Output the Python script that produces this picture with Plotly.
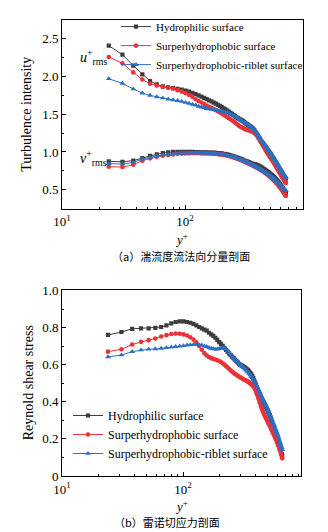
import plotly.graph_objects as go

# ---------------- data ----------------
Y_PLUS = [24, 31, 38, 45, 52, 59, 66, 73, 80, 87,
          94, 101, 108, 115, 122, 129, 136, 143, 150, 157,
          164, 171, 178, 185, 192, 199, 206, 213, 220, 227,
          234, 241, 248, 255, 262, 269, 276, 283, 290, 297,
          304, 311, 318, 325, 332, 339, 346, 353, 360, 367,
          374, 381, 388, 395, 402, 409, 416, 423, 430, 437,
          444, 451, 458, 465, 472, 479, 486, 493, 500, 507,
          514, 521, 528, 535, 542, 549, 556, 563, 570, 577,
          584, 591, 598, 605, 612, 619, 626, 633, 640, 647,
          654, 661]

SERIES_NAMES = ["Hydrophilic surface",
                "Surperhydrophobic surface",
                "Surperhydrophobic-riblet surface"]

U_HYDROPHILIC = [2.41, 2.29, 2.145, 2.03, 1.94, 1.895, 1.87, 1.858, 1.848, 1.838,
                 1.828, 1.815, 1.80, 1.785, 1.768, 1.75, 1.735, 1.718, 1.70, 1.685,
                 1.67, 1.655, 1.64, 1.625, 1.61, 1.595, 1.58, 1.565, 1.55, 1.535,
                 1.52, 1.505, 1.49, 1.475, 1.46, 1.45, 1.44, 1.43, 1.42, 1.41,
                 1.395, 1.38, 1.37, 1.36, 1.35, 1.34, 1.33, 1.315, 1.30, 1.285,
                 1.265, 1.245, 1.225, 1.205, 1.185, 1.165, 1.145, 1.13, 1.115, 1.10,
                 1.085, 1.07, 1.055, 1.04, 1.025, 1.01, 0.995, 0.98, 0.965, 0.95,
                 0.935, 0.92, 0.905, 0.89, 0.875, 0.86, 0.845, 0.83, 0.815, 0.80,
                 0.785, 0.77, 0.755, 0.74, 0.73, 0.715, 0.70, 0.69, 0.675, 0.665,
                 0.655, 0.645]
U_SUPERHYDROPHOBIC = [2.26, 2.175, 2.055, 1.96, 1.905, 1.88, 1.862, 1.85, 1.838, 1.82,
                      1.80, 1.78, 1.755, 1.73, 1.70, 1.675, 1.655, 1.635, 1.615, 1.60,
                      1.585, 1.57, 1.555, 1.54, 1.525, 1.51, 1.495, 1.48, 1.465, 1.45,
                      1.435, 1.42, 1.405, 1.39, 1.375, 1.36, 1.345, 1.335, 1.325, 1.315,
                      1.31, 1.30, 1.295, 1.29, 1.285, 1.28, 1.275, 1.27, 1.26, 1.25,
                      1.24, 1.225, 1.205, 1.185, 1.165, 1.145, 1.125, 1.105, 1.085, 1.065,
                      1.05, 1.03, 1.01, 0.99, 0.975, 0.96, 0.945, 0.93, 0.915, 0.90,
                      0.885, 0.87, 0.855, 0.84, 0.825, 0.81, 0.795, 0.78, 0.765, 0.75,
                      0.735, 0.72, 0.705, 0.69, 0.675, 0.665, 0.65, 0.64, 0.625, 0.615,
                      0.60, 0.59]
U_RIBLET = [1.97, 1.91, 1.835, 1.78, 1.75, 1.73, 1.715, 1.70, 1.69, 1.68,
            1.67, 1.655, 1.645, 1.63, 1.62, 1.605, 1.595, 1.585, 1.575, 1.57,
            1.565, 1.56, 1.555, 1.55, 1.545, 1.54, 1.535, 1.53, 1.525, 1.515,
            1.505, 1.495, 1.485, 1.475, 1.46, 1.45, 1.435, 1.425, 1.41, 1.40,
            1.39, 1.38, 1.37, 1.36, 1.35, 1.34, 1.33, 1.32, 1.305, 1.29,
            1.275, 1.26, 1.24, 1.22, 1.20, 1.18, 1.16, 1.14, 1.125, 1.11,
            1.095, 1.08, 1.065, 1.05, 1.035, 1.02, 1.005, 0.99, 0.975, 0.96,
            0.945, 0.93, 0.915, 0.90, 0.885, 0.87, 0.855, 0.84, 0.825, 0.81,
            0.795, 0.78, 0.77, 0.755, 0.745, 0.73, 0.72, 0.705, 0.695, 0.68,
            0.67, 0.66]

V_HYDROPHILIC = [0.875, 0.87, 0.885, 0.92, 0.95, 0.97, 0.985, 0.995, 1.0, 1.0,
                 1.0, 1.0, 1.0, 1.0, 0.998, 0.997, 0.996, 0.995, 0.994, 0.993,
                 0.992, 0.99, 0.988, 0.986, 0.983, 0.98, 0.976, 0.972, 0.967, 0.962,
                 0.956, 0.95, 0.943, 0.936, 0.929, 0.922, 0.915, 0.908, 0.901, 0.894,
                 0.887, 0.88, 0.874, 0.868, 0.862, 0.856, 0.85, 0.845, 0.84, 0.837,
                 0.835, 0.83, 0.824, 0.818, 0.811, 0.804, 0.797, 0.789, 0.781, 0.773,
                 0.765, 0.757, 0.749, 0.741, 0.733, 0.725, 0.717, 0.709, 0.70, 0.692,
                 0.684, 0.675, 0.666, 0.657, 0.648, 0.638, 0.628, 0.618, 0.607, 0.596,
                 0.585, 0.574, 0.562, 0.55, 0.538, 0.526, 0.514, 0.501, 0.488, 0.475,
                 0.462, 0.45]
V_SUPERHYDROPHOBIC = [0.805, 0.80, 0.83, 0.885, 0.915, 0.935, 0.95, 0.96, 0.968, 0.975,
                      0.978, 0.98, 0.981, 0.982, 0.982, 0.982, 0.981, 0.98, 0.979, 0.978,
                      0.977, 0.975, 0.973, 0.971, 0.968, 0.965, 0.961, 0.957, 0.952, 0.947,
                      0.941, 0.935, 0.928, 0.921, 0.914, 0.907, 0.90, 0.893, 0.886, 0.879,
                      0.872, 0.865, 0.858, 0.851, 0.844, 0.837, 0.83, 0.823, 0.816, 0.809,
                      0.802, 0.795, 0.788, 0.781, 0.774, 0.767, 0.76, 0.752, 0.744, 0.736,
                      0.728, 0.72, 0.712, 0.704, 0.696, 0.688, 0.679, 0.67, 0.661, 0.652,
                      0.643, 0.634, 0.625, 0.615, 0.605, 0.595, 0.585, 0.575, 0.565, 0.554,
                      0.543, 0.532, 0.521, 0.51, 0.499, 0.488, 0.476, 0.464, 0.452, 0.44,
                      0.428, 0.418]
V_RIBLET = [0.845, 0.84, 0.86, 0.905, 0.93, 0.95, 0.96, 0.968, 0.975, 0.98,
            0.983, 0.985, 0.986, 0.987, 0.987, 0.987, 0.986, 0.985, 0.984, 0.983,
            0.982, 0.98, 0.978, 0.976, 0.973, 0.97, 0.966, 0.962, 0.957, 0.952,
            0.946, 0.94, 0.933, 0.926, 0.919, 0.912, 0.905, 0.898, 0.891, 0.884,
            0.877, 0.87, 0.863, 0.856, 0.849, 0.842, 0.835, 0.828, 0.821, 0.814,
            0.807, 0.80, 0.793, 0.786, 0.779, 0.772, 0.765, 0.758, 0.751, 0.744,
            0.737, 0.73, 0.723, 0.716, 0.709, 0.702, 0.695, 0.687, 0.679, 0.671,
            0.663, 0.655, 0.647, 0.639, 0.63, 0.621, 0.612, 0.603, 0.594, 0.585,
            0.578, 0.57, 0.562, 0.554, 0.545, 0.536, 0.527, 0.518, 0.509, 0.50,
            0.493, 0.487]

RSS_HYDROPHILIC = [0.76, 0.776, 0.793, 0.796, 0.796, 0.798, 0.803, 0.812, 0.823, 0.83,
                   0.833, 0.833, 0.83, 0.826, 0.82, 0.812, 0.803, 0.796, 0.789, 0.783,
                   0.772, 0.763, 0.755, 0.745, 0.734, 0.722, 0.712, 0.702, 0.691, 0.68,
                   0.669, 0.66, 0.651, 0.643, 0.635, 0.627, 0.619, 0.612, 0.605, 0.60,
                   0.596, 0.592, 0.588, 0.584, 0.579, 0.575, 0.569, 0.562, 0.555, 0.548,
                   0.538, 0.527, 0.515, 0.503, 0.491, 0.478, 0.465, 0.452, 0.44, 0.43,
                   0.42, 0.412, 0.404, 0.396, 0.388, 0.38, 0.372, 0.363, 0.355, 0.346,
                   0.337, 0.328, 0.318, 0.307, 0.295, 0.283, 0.272, 0.261, 0.25, 0.239,
                   0.228, 0.218, 0.207, 0.196, 0.185, 0.174, 0.163, 0.152, 0.142, 0.131,
                   0.12, 0.11]
RSS_SUPERHYDROPHOBIC = [0.67, 0.683, 0.709, 0.723, 0.732, 0.741, 0.752, 0.759, 0.765, 0.768,
                        0.767, 0.763, 0.757, 0.748, 0.735, 0.72, 0.70, 0.68, 0.662, 0.65,
                        0.641, 0.635, 0.631, 0.628, 0.624, 0.62, 0.614, 0.608, 0.60, 0.592,
                        0.585, 0.577, 0.569, 0.562, 0.556, 0.55, 0.545, 0.54, 0.536, 0.532,
                        0.528, 0.524, 0.52, 0.517, 0.514, 0.511, 0.507, 0.503, 0.499, 0.494,
                        0.489, 0.483, 0.475, 0.465, 0.453, 0.44, 0.426, 0.412, 0.398, 0.384,
                        0.371, 0.359, 0.348, 0.338, 0.328, 0.319, 0.311, 0.303, 0.295, 0.287,
                        0.279, 0.271, 0.263, 0.255, 0.247, 0.239, 0.231, 0.223, 0.215, 0.207,
                        0.199, 0.191, 0.183, 0.175, 0.166, 0.157, 0.148, 0.139, 0.129, 0.119,
                        0.108, 0.095]
RSS_RIBLET = [0.642, 0.652, 0.67, 0.679, 0.683, 0.685, 0.688, 0.691, 0.694, 0.697,
              0.70, 0.702, 0.705, 0.707, 0.708, 0.708, 0.707, 0.705, 0.70, 0.697,
              0.692, 0.688, 0.685, 0.683, 0.684, 0.686, 0.689, 0.691, 0.69, 0.684,
              0.674, 0.664, 0.653, 0.642, 0.633, 0.626, 0.62, 0.614, 0.608, 0.601,
              0.595, 0.589, 0.583, 0.577, 0.571, 0.565, 0.559, 0.552, 0.545, 0.537,
              0.529, 0.52, 0.51, 0.50, 0.49, 0.48, 0.47, 0.46, 0.45, 0.44,
              0.43, 0.42, 0.411, 0.402, 0.393, 0.384, 0.375, 0.366, 0.357, 0.348,
              0.339, 0.33, 0.321, 0.312, 0.303, 0.294, 0.285, 0.276, 0.267, 0.258,
              0.249, 0.24, 0.231, 0.222, 0.212, 0.202, 0.192, 0.182, 0.172, 0.162,
              0.152, 0.142]

X_TICKS = [10, 100]
X_TICKTEXT = ["10<sup>1</sup>", "10<sup>2</sup>"]
X_MINOR = [20, 30, 40, 50, 60, 70, 80, 90, 200, 300, 400, 500, 600, 700, 800, 900]
Y1_TICKS = [0.5, 1.0, 1.5, 2.0, 2.5]
Y1_TICKTEXT = ["0.5", "1.0", "1.5", "2.0", "2.5"]
Y2_TICKS = [0, 0.2, 0.4, 0.6, 0.8, 1.0]
Y2_TICKTEXT = ["0", "0.2", "0.4", "0.6", "0.8", "1.0"]

# ---------------- style ----------------
COLORS = ["#3d3d3d", "#ec3237", "#2c6fc2"]
SYMBOLS = ["square", "circle", "triangle-up"]
SIZES = [4.2, 4.6, 5.2]
SERIF = "Liberation Serif"
CJK = "Noto Sans CJK SC"

W, H = 328, 532
ML, MR, MT, MB = 62, 25, 14, 56
PW = W - ML - MR
PH = H - MT - MB


def px(x):
    return (x - ML) / PW


def py(y):
    return (H - MB - y) / PH


fig = go.Figure()

u_sets = [U_HYDROPHILIC, U_SUPERHYDROPHOBIC, U_RIBLET]
v_sets = [V_HYDROPHILIC, V_SUPERHYDROPHOBIC, V_RIBLET]
r_sets = [RSS_HYDROPHILIC, RSS_SUPERHYDROPHOBIC, RSS_RIBLET]

for i in range(3):
    for vals, show in ((v_sets[i], False), (u_sets[i], True)):
        fig.add_trace(go.Scatter(
            x=Y_PLUS, y=vals, mode="lines+markers", name=SERIES_NAMES[i],
            xaxis="x", yaxis="y", legend="legend", showlegend=show,
            line=dict(color=COLORS[i], width=1),
            marker=dict(symbol=SYMBOLS[i], size=SIZES[i], color=COLORS[i],
                        line=dict(width=0))))

for i in range(3):
    fig.add_trace(go.Scatter(
        x=Y_PLUS, y=r_sets[i], mode="lines+markers", name=SERIES_NAMES[i],
        xaxis="x2", yaxis="y2", legend="legend2", showlegend=True,
        line=dict(color=COLORS[i], width=1),
        marker=dict(symbol=SYMBOLS[i], size=SIZES[i], color=COLORS[i],
                    line=dict(width=0))))

axis_common = dict(showline=True, linecolor="black", linewidth=1, mirror=True,
                   ticks="inside", ticklen=4, tickwidth=1, tickcolor="black",
                   showgrid=False, zeroline=False,
                   tickfont=dict(family=SERIF, size=13, color="black"))

xcommon = dict(axis_common, type="log", tickmode="array", tickvals=X_TICKS,
               ticktext=X_TICKTEXT, ticklabelstandoff=1,
               minor=dict(tickmode="array", tickvals=X_MINOR, ticks="inside",
                          ticklen=2, tickwidth=1, tickcolor="black", showgrid=False))

top_lo = py(205)
bot_hi = py(288)

fig.update_layout(
    width=W, height=H,
    margin=dict(l=ML, r=MR, t=MT, b=MB),
    paper_bgcolor="white", plot_bgcolor="white",
    font=dict(family=SERIF, size=13, color="black"),
    xaxis=dict(xcommon, domain=[0, 1], range=[1, 1 + PW / 123], anchor="y"),
    yaxis=dict(axis_common, domain=[top_lo, 1], range=[0.25, 2.75],
               tickmode="array", tickvals=Y1_TICKS, ticktext=Y1_TICKTEXT,
               minor=dict(dtick=0.25, ticks="inside", ticklen=2, tickwidth=1,
                          tickcolor="black", showgrid=False), anchor="x"),
    xaxis2=dict(xcommon, domain=[0, px(301)], range=[1, 1 + (301 - ML) / 121], anchor="y2"),
    yaxis2=dict(axis_common, domain=[0, bot_hi], range=[0, 1.0],
                tickmode="array", tickvals=Y2_TICKS, ticktext=Y2_TICKTEXT,
                minor=dict(dtick=0.1, ticks="inside", ticklen=2, tickwidth=1,
                           tickcolor="black", showgrid=False), anchor="x2"),
    legend=dict(x=px(116), y=py(6), xanchor="left", yanchor="top",
                bgcolor="rgba(0,0,0,0)", borderwidth=0, tracegroupgap=0,
                font=dict(family=SERIF, size=11, color="black")),
    legend2=dict(x=px(68), y=py(400), xanchor="left", yanchor="top",
                 bgcolor="rgba(0,0,0,0)", borderwidth=0, tracegroupgap=0,
                 font=dict(family=SERIF, size=12, color="black")),
)

annotations = [
    dict(text="Turbulence intensity", x=px(27), y=py(110), textangle=-90,
         font=dict(family=SERIF, size=14)),
    dict(text="Reynold shear stress", x=px(28), y=py(382), textangle=-90,
         font=dict(family=SERIF, size=14)),
    dict(text="<i>y</i><sup>+</sup>", x=px(181), y=py(236),
         font=dict(family=SERIF, size=13)),
    dict(text="<i>y</i><sup>+</sup>", x=px(181), y=py(506),
         font=dict(family=SERIF, size=13)),
    dict(text="<i>u</i><sup>+</sup><sub>rms</sub>", x=px(78), y=py(51), xanchor="left",
         font=dict(family=SERIF, size=14)),
    dict(text="<i>v</i><sup>+</sup><sub>rms</sub>", x=px(78), y=py(154), xanchor="left",
         font=dict(family=SERIF, size=14)),
    dict(text="（a）湍流度流法向分量剖面", x=px(181), y=py(253),
         font=dict(family=CJK, size=11)),
    dict(text="（b）雷诺切应力剖面", x=px(167), y=py(523),
         font=dict(family=CJK, size=11)),
]
for a in annotations:
    a.update(xref="paper", yref="paper", showarrow=False)
    a.setdefault("xanchor", "center")
    a.setdefault("yanchor", "middle")
fig.update_layout(annotations=annotations)

fig.write_html("out.html")
